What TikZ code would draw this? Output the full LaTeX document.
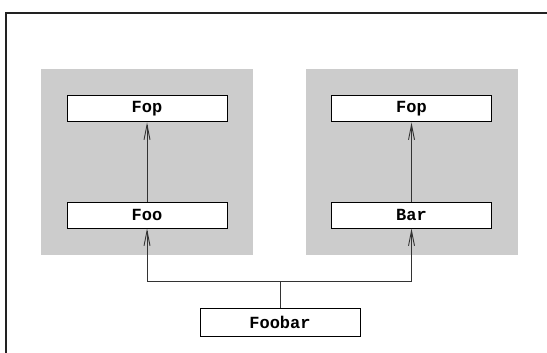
\documentclass[tikz,border=0pt]{standalone}
\usepackage{fontspec}
\setmonofont{Liberation Mono}
\usetikzlibrary{arrows.meta}
\definecolor{panelgray}{HTML}{CCCCCC}
\definecolor{linkgray}{HTML}{333333}
\definecolor{framecol}{HTML}{222222}
\begin{document}
\begin{tikzpicture}[x=1pt,y=-1pt,
  panel/.style={fill=panelgray, draw=none, inner sep=0pt, minimum width=212pt, minimum height=186pt},
  cls/.style={draw=black, line width=1pt, fill=white, minimum width=160pt, minimum height=26pt,
              inner sep=0pt, font=\ttfamily\bfseries\fontsize{17}{17}\selectfont},
  link/.style={draw=linkgray, line width=0.9pt},
  tip/.style={-{Straight Barb[length=15pt,width=6pt]}}]
  \useasboundingbox (0,0) rectangle (547,353);

  % page frame (open on the right and bottom)
  \draw[framecol, line width=2pt] (6,356) -- (6,13) -- (550,13);

  % shaded groups
  \node[panel] (panelL) at (147,162) {};
  \node[panel] (panelR) at (412,162) {};

  % classes
  \node[cls] (fopL) at (147,109) {Fop};
  \node[cls] (foo)  at (147,215) {Foo};
  \node[cls] (fopR) at (411.5,109) {Fop};
  \node[cls] (bar)  at (411.5,215) {Bar};
  \node[cls, minimum height=28pt] (foobar) at (280,322) {Foobar};

  % inheritance links
  \draw[link, tip] (foo.north) -- (fopL.south);
  \draw[link, tip] (bar.north) -- (fopR.south);
  \coordinate (join) at (280,281);
  \draw[link] (foobar.north) -- (join);
  \draw[link, tip] (join) -| (foo.south);
  \draw[link, tip] (join) -| (bar.south);
\end{tikzpicture}
\end{document}
